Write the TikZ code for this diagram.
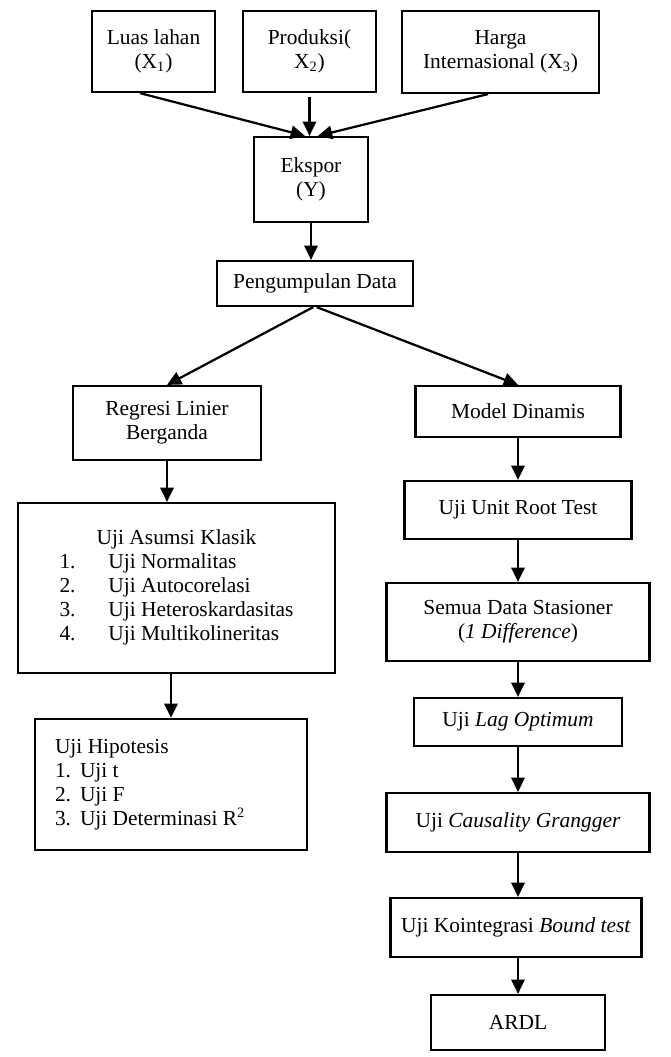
\documentclass[tikz,border=0pt]{standalone}
\usepackage{fontspec}
\setmainfont{Liberation Serif}
\usetikzlibrary{arrows.meta,positioning}

\tikzset{
  kotak/.style={draw, line width=1.25pt, align=center, inner sep=2pt,
    font=\fontsize{12}{13.4}\selectfont},
  panah/.style={-{Triangle[length=8pt,width=7.5pt]}, line width=1.25pt},
}

\begin{document}
\begin{tikzpicture}[x=0.56pt,y=-0.56pt]
\useasboundingbox (0,0) rectangle (670,1057);
% variabel
\node[kotak, minimum width=68.9pt, minimum height=45.4pt] (luas) at (153.5,51.5) {Luas lahan\\(X\textsubscript{1})};
\node[kotak, minimum width=74.5pt, minimum height=45.4pt] (produksi) at (309.5,51.5) {Produksi(\\X\textsubscript{2})};
\node[kotak, minimum width=110.3pt, minimum height=45.9pt] (harga) at (500.5,52) {Harga\\Internasional (X\textsubscript{3})};
\node[kotak, minimum width=63.8pt, minimum height=47.6pt] (ekspor) at (311,179.5) {Ekspor\\(Y)};
\node[kotak, minimum width=109.8pt, minimum height=25.2pt] (data) at (315,283.5) {Pengumpulan Data};
% kiri
\node[kotak, minimum width=105.3pt, minimum height=41.4pt] (regresi) at (167,423) {Regresi Linier\\Berganda};
\node[kotak, minimum width=177.5pt, minimum height=95.2pt] (asumsi) at (176.5,588) {%
  \begin{tabular}{@{}p{27.4pt}@{}l@{}}
  \multicolumn{2}{c}{Uji Asumsi Klasik}\\
  1. & Uji Normalitas\\
  2. & Uji Autocorelasi\\
  3. & Uji Heteroskardasitas\\
  4. & Uji Multikolineritas
  \end{tabular}};
\node[kotak, align=flush left, text width=129.9pt, inner xsep=11.2pt, minimum height=73.4pt] (hipotesis) at (171,784.5) {%
  Uji Hipotesis\\
  \makebox[14pt][l]{1.}Uji t\\
  \makebox[14pt][l]{2.}Uji F\\
  \makebox[14pt][l]{3.}Uji Determinasi R\textsuperscript{2}};
% kanan
\node[kotak, minimum width=114.8pt, minimum height=28.6pt] (dinamis) at (518,411.5) {Model Dinamis};
\node[kotak, minimum width=127.1pt, minimum height=32.5pt] (unitroot) at (518,510) {Uji Unit Root Test};
\node[kotak, minimum width=147.3pt, minimum height=43.7pt] (stasioner) at (518,622) {Semua Data Stasioner\\(\textit{1 Difference})};
\node[kotak, minimum width=116.5pt, minimum height=26.9pt] (lag) at (518,722) {Uji \textit{Lag Optimum}};
\node[kotak, minimum width=147.3pt, minimum height=33pt] (kausalitas) at (518,822.5) {Uji \textit{Causality Grangger}};
\node[kotak, minimum width=140.6pt, minimum height=33pt] (kointegrasi) at (516,927.5) {Uji Kointegrasi \textit{Bound test}};
\node[kotak, minimum width=97.4pt, minimum height=30.8pt] (ardl) at (518,1022.5) {ARDL};

\draw[panah] ([xshift=-7.5pt]luas.south) -- ([xshift=-3.4pt]ekspor.north);
\draw[panah] ([yshift=-2pt]produksi.south) -- (produksi.south |- ekspor.north);
\draw[panah] ([xshift=-7pt]harga.south) -- ([xshift=3.9pt]ekspor.north);
\draw[panah] (ekspor.south) -- (ekspor.south |- data.north);
\draw[panah] ([xshift=-1pt]data.south) -- (regresi.north);
\draw[panah] ([xshift=1pt]data.south) -- (dinamis.north);
\draw[panah] (regresi.south) -- (regresi.south |- asumsi.north);
\draw[panah] (hipotesis.north |- asumsi.south) -- (hipotesis.north);
\foreach \a/\b in {dinamis/unitroot, unitroot/stasioner, stasioner/lag, lag/kausalitas, kausalitas/kointegrasi}
  \draw[panah] (\a.south) -- (\a.south |- \b.north);
\draw[panah] (ardl.north |- kointegrasi.south) -- (ardl.north);
\end{tikzpicture}
\end{document}
